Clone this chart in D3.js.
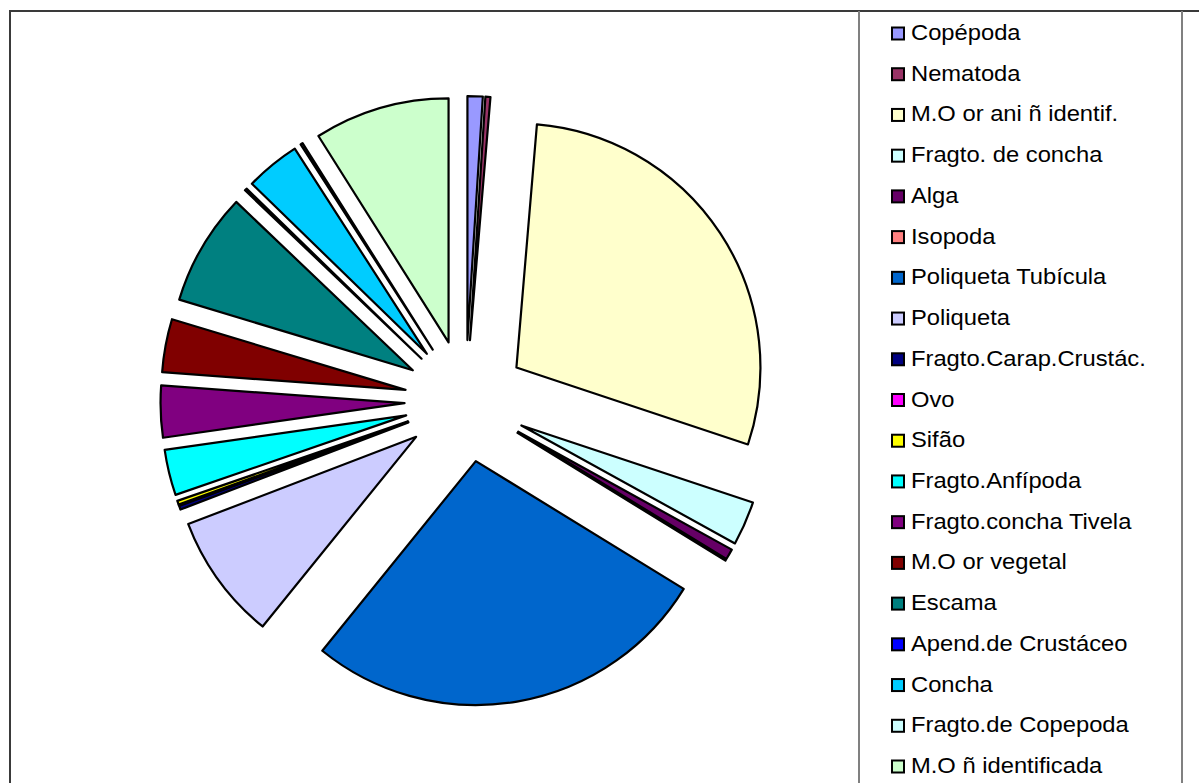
<!DOCTYPE html>
<html>
<head>
<meta charset="utf-8">
<script src="https://cdn.jsdelivr.net/npm/d3@7"></script>
<style>
  html, body { margin: 0; padding: 0; background: #fff; }
  svg { display: block; }
</style>
</head>
<body>
<svg id="chart" width="1199" height="783"></svg>
<script>
// Diet composition (% of items) — categories in drawing order, clockwise from 12 o'clock
const categories = [
  "Copépoda", "Nematoda", "M.O or ani ñ identif.", "Fragto. de concha", "Alga",
  "Isopoda", "Poliqueta Tubícula", "Poliqueta", "Fragto.Carap.Crustác.", "Ovo",
  "Sifão", "Fragto.Anfípoda", "Fragto.concha Tivela", "M.O or vegetal", "Escama",
  "Apend.de Crustáceo", "Concha", "Fragto.de Copepoda", "M.O ñ identificada"
];
const values = [
  1.0, 0.33, 28.6, 2.9, 0.7,
  0.03, 26.9, 8.3, 0.25, 0.03,
  0.25, 3.0, 3.4, 3.5, 7.4,
  0.15, 3.6, 0.15, 8.9
];
const colors = [
  "#9999FF", "#993366", "#FFFFCC", "#CCFFFF", "#660066",
  "#FF8080", "#0066CC", "#CCCCFF", "#000080", "#FF00FF",
  "#FFFF00", "#00FFFF", "#800080", "#800000", "#008080",
  "#0000FF", "#00CCFF", "#CCFFFF", "#CCFFCC"
];

const data = categories.map((c, i) => ({ name: c, value: values[i], color: colors[i] }));

const svg = d3.select("#chart");

// Chart area frame (top and left edges)
svg.append("line").attr("x1", 10).attr("y1", 11).attr("x2", 1199).attr("y2", 11)
  .attr("stroke", "#3a3a3a").attr("stroke-width", 2);
svg.append("line").attr("x1", 10).attr("y1", 10).attr("x2", 10).attr("y2", 783)
  .attr("stroke", "#3a3a3a").attr("stroke-width", 2);

// Exploded pie
const cx = 465.5, cy = 401, radius = 244, explode = 61;
const pie = d3.pie().sort(null).value(d => d.value).startAngle(0).endAngle(2 * Math.PI);
const arc = d3.arc().innerRadius(0).outerRadius(radius);

const pieG = svg.append("g").attr("transform", `translate(${cx},${cy})`);
pieG.selectAll("path")
  .data(pie(data))
  .join("path")
  .attr("d", arc)
  .attr("transform", d => {
    const mid = (d.startAngle + d.endAngle) / 2;
    return `translate(${explode * Math.sin(mid)},${-explode * Math.cos(mid)})`;
  })
  .attr("fill", d => d.data.color)
  .attr("stroke", "#000")
  .attr("stroke-width", 2.2)
  .attr("stroke-linejoin", "round");

// Legend box
svg.append("line").attr("x1", 859).attr("y1", 11).attr("x2", 859).attr("y2", 783)
  .attr("stroke", "#808080").attr("stroke-width", 2);
svg.append("line").attr("x1", 1182).attr("y1", 11).attr("x2", 1182).attr("y2", 783)
  .attr("stroke", "#808080").attr("stroke-width", 2);

const rowY = d3.scalePoint().domain(categories).range([40, 773]);

const legend = svg.append("g");
const item = legend.selectAll("g.item")
  .data(data)
  .join("g")
  .attr("class", "item")
  .attr("transform", d => `translate(0,${rowY(d.name)})`);

item.append("rect")
  .attr("x", 892).attr("y", -12.5)
  .attr("width", 12).attr("height", 12)
  .attr("fill", d => d.color)
  .attr("stroke", "#000").attr("stroke-width", 2);

item.append("text")
  .attr("transform", "translate(911,0) scale(1.08,1)")
  .attr("font-family", "'Liberation Sans', Arial, sans-serif")
  .attr("font-size", 22)
  .attr("fill", "#000")
  .text(d => d.name);
</script>
</body>
</html>
